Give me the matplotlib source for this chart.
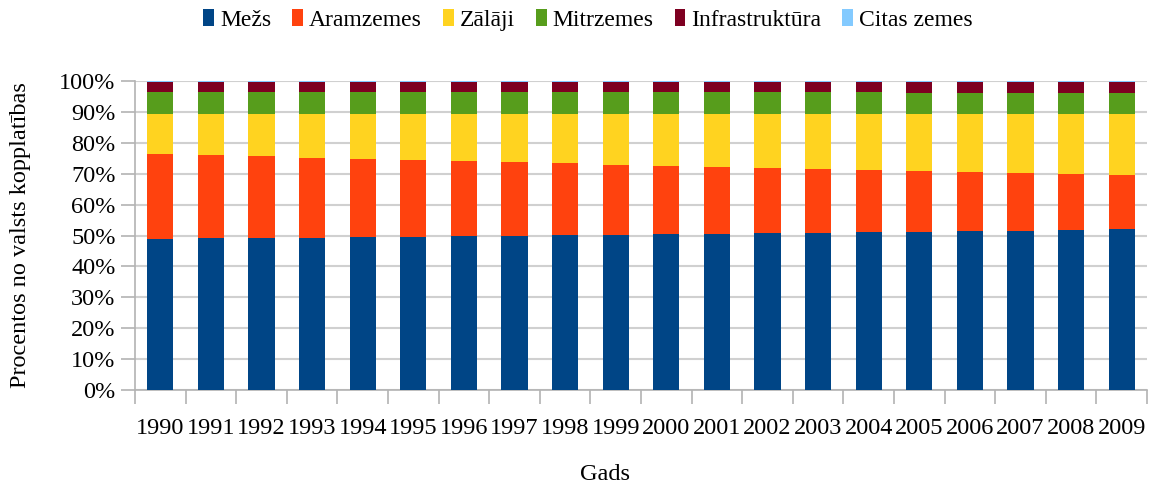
import numpy as np
import matplotlib
matplotlib.use("Agg")
import matplotlib.pyplot as plt
from matplotlib.ticker import FuncFormatter
from matplotlib.patches import Patch

years = [str(y) for y in range(1990, 2010)]

# percent of total country area
mezs = [48.9, 49.1, 49.2, 49.2, 49.4, 49.5, 49.7, 49.9, 50.1, 50.2,
        50.4, 50.5, 50.7, 50.8, 51.0, 51.1, 51.3, 51.4, 51.7, 52.0]
aramzemes = [27.5, 26.9, 26.5, 25.9, 25.4, 24.9, 24.4, 24.0, 23.4, 22.6,
             22.1, 21.7, 21.1, 20.7, 20.2, 19.8, 19.3, 18.8, 18.2, 17.6]
zalaji = [12.9, 13.3, 13.6, 14.2, 14.5, 14.9, 15.2, 15.4, 15.8, 16.5,
          16.8, 17.1, 17.5, 17.8, 18.1, 18.4, 18.7, 19.1, 19.4, 19.7]
mitrzemes = [7.1, 7.1, 7.1, 7.1, 7.1, 7.1, 7.1, 7.1, 7.1, 7.1,
             7.1, 7.1, 7.1, 7.1, 7.1, 6.8, 6.8, 6.8, 6.8, 6.8]
infrastruktura = [3.4, 3.4, 3.4, 3.4, 3.4, 3.4, 3.4, 3.4, 3.4, 3.4,
                  3.4, 3.4, 3.4, 3.4, 3.4, 3.7, 3.7, 3.7, 3.7, 3.7]
citas = [0.2] * 20

series = [("Mežs", mezs, "#004586"),
          ("Aramzemes", aramzemes, "#ff420e"),
          ("Zālāji", zalaji, "#ffd320"),
          ("Mitrzemes", mitrzemes, "#579d1c"),
          ("Infrastruktūra", infrastruktura, "#7e0021"),
          ("Citas zemes", citas, "#83caff")]

plt.rcParams['font.family'] = ['Liberation Serif', 'DejaVu Serif']
fs = 17.5

fig = plt.figure(figsize=(11.49, 4.84), dpi=100)
ax = fig.add_axes([135 / 1149, 1 - 390 / 484, (1147 - 135) / 1149, (390 - 81) / 484])

x = np.arange(len(years))
totals = np.sum([s[1] for s in series], axis=0)
bottom = np.zeros(len(years))
handles = []
for name, vals, col in series:
    v = np.array(vals) / totals * 100
    ax.bar(x, v, 0.52, bottom=bottom, color=col, zorder=3)
    bottom += v
    handles.append(Patch(facecolor=col, label=name))

ax.set_xlim(-0.5, len(years) - 0.5)
ax.set_ylim(0, 100)
ax.set_yticks(np.arange(0, 101, 10))
ax.yaxis.set_major_formatter(FuncFormatter(lambda v, p: "%d%%" % v))
ax.grid(axis='y', color='#d0d0d0', linewidth=1.5, zorder=0)

ax.set_xticks(x)
ax.set_xticklabels(years)
ax.set_xticks(np.arange(-0.5, len(years), 1), minor=True)
ax.tick_params(axis='x', which='major', length=0, pad=20, labelsize=fs)
ax.tick_params(axis='x', which='minor', length=10, color='#b3b3b3', width=1.2)
ax.tick_params(axis='y', length=10, color='#b3b3b3', width=1.2, pad=4, labelsize=fs)

for s in ['top', 'right']:
    ax.spines[s].set_visible(False)
for s in ['left', 'bottom']:
    ax.spines[s].set_color('#b3b3b3')
    ax.spines[s].set_linewidth(1.2)

ax.set_xlabel("Gads", fontsize=fs)
ax.xaxis.set_label_coords((605 - 135) / 1012, -(475 - 390) / 309, transform=ax.transAxes)
ax.xaxis.label.set_verticalalignment('center')
ax.set_ylabel("Procentos no valsts kopplatības", fontsize=fs, labelpad=20)

fig.legend(handles=handles, loc='center', bbox_to_anchor=(588 / 1149, 1 - 20 / 484),
           ncol=6, frameon=False, fontsize=17, handlelength=0.45, handleheight=0.75,
           handletextpad=0.25, columnspacing=0.9)

fig.savefig("out.png", dpi=100)
